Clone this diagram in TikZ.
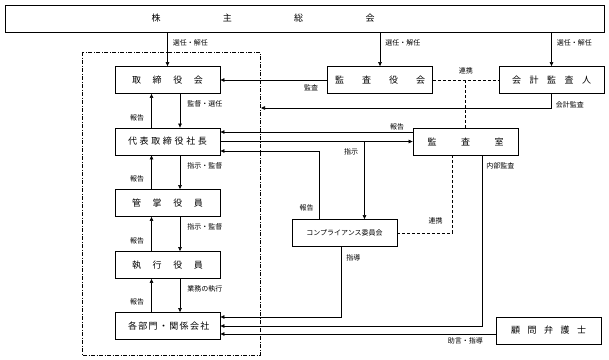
\documentclass[tikz,border=0pt]{standalone}
\usepackage{fontspec}
\setmainfont{Noto Sans CJK JP}
\usetikzlibrary{arrows.meta,positioning}
\newcommand{\spread}[2]{\makebox[#1][s]{#2}}

\begin{document}
\begin{tikzpicture}[x=1pt, y=-1pt,
  box/.style={draw, line width=0.8pt, minimum width=105, minimum height=27, inner sep=0pt, font=\fontsize{9}{10}\selectfont},
  arr/.style={-{Triangle[length=4pt,width=3.5pt]}, line width=0.6pt},
  link/.style={dash pattern=on 3pt off 2pt, line width=0.7pt},
  lbl/.style={font=\fontsize{7}{8}\selectfont, inner sep=1pt},
  grp/.style={dash pattern=on 4pt off 1.5pt on 1pt off 1.5pt, line width=0.7pt},
]
\useasboundingbox (0,0) rectangle (609,359);

% shareholders' meeting
\node[box, minimum width=599] (kabunushi) at (304.5,18.5) {\hspace*{-83pt}\spread{223pt}{株 主 総 会}};

% boxes
\node[box] (torishimari) at (167.5,80) {\spread{71pt}{取 締 役 会}};
\node[box] (kansayaku) at (380,80) {\spread{90pt}{監 査 役 会}};
\node[box] (kaikei) at (551.5,80) {\spread{79pt}{会 計 監 査 人}};
\node[box] (daihyo) at (167.5,141.5) {\spread{79pt}{代 表 取 締 役 社 長}};
\node[box] (kansashitsu) at (465.5,141.5) {\spread{76pt}{監 査 室}};
\node[box] (kansho) at (167.5,203) {\spread{71pt}{管 掌 役 員}};
\node[box, font=\fontsize{7}{8}\selectfont] (compliance) at (344.5,233) {コンプライアンス委員会};
\node[box] (shikko) at (167.5,265) {\spread{71pt}{執 行 役 員}};
\node[box] (kakubumon) at (167.5,326) {\spread{79pt}{各 部 門 ・ 関 係 会 社}};
\node[box] (komon) at (548.5,330.5) {\spread{75pt}{顧 問 弁 護 士}};

% management group
\draw[grp] (82,52) rectangle (260,355);
\coordinate (grpedge) at (261,108);
\coordinate (shiji) at ([xshift=20pt]compliance.north);
\coordinate (hokoku) at ([xshift=-25.5pt]compliance.north);

% elections
\foreach \n in {torishimari,kansayaku,kaikei}
  \draw[arr] (kabunushi.south -| \n) -- (\n) node[lbl, pos=.3, right=4pt] {選任・解任};

% chain of command
\foreach \hi/\lo/\lab in {torishimari/daihyo/監督・選任, daihyo/kansho/指示・監督, kansho/shikko/指示・監督, shikko/kakubumon/業務の執行} {
  \draw[arr] ([xshift=12.5pt]\hi.south) -- ([xshift=12.5pt]\lo.north) node[lbl, pos=.3, right=6pt] {\lab};
  \draw[arr] ([xshift=-16pt]\lo.north) -- ([xshift=-16pt]\hi.south) node[lbl, pos=.3, left=6pt] {報告};
}

% audit
\draw[arr] (kansayaku) -- (torishimari) node[lbl, pos=.15, below=3pt] {監査};
\draw[link] (kansayaku) -- (kaikei) node[lbl, midway, above=5pt] {連携};
\draw[link] (kansashitsu.north) -- (kansashitsu.north |- kaikei.west);
\draw[arr] (kaikei.south) |- (grpedge) node[lbl, pos=.4, right=3pt] {会計監査};

% president and audit office
\draw[arr] ([yshift=9.5pt]kansashitsu.west) -- ([yshift=9.5pt]daihyo.east) node[lbl, pos=.08, above=1pt] {報告};
\draw[arr] (daihyo) -- (kansashitsu);
\draw[arr] (shiji |- daihyo.east) -- (shiji) node[lbl, pos=.13, left=5pt] {指示};
\draw[arr] (hokoku) |- ([yshift=-9.5pt]daihyo.east) node[lbl, pos=.08, left=4pt] {報告};

% to the departments
\draw[link] ([xshift=-13.5pt]kansashitsu.south) |- (compliance.east) node[lbl, pos=.42, left=8pt] {連携};
\draw[arr] ([xshift=-3.5pt]compliance.south) |- ([yshift=9pt]kakubumon.east) node[lbl, pos=.08, right=4pt] {指導};
\draw[arr] ([xshift=16.5pt]kansashitsu.south) |- (kakubumon.east) node[lbl, pos=.03, right=3pt] {内部監査};
\draw[arr] ([yshift=-3.5pt]komon.west) -- ([yshift=-8pt]kakubumon.east) node[lbl, pos=.11, below=2pt] {助言・指導};
\end{tikzpicture}
\end{document}
